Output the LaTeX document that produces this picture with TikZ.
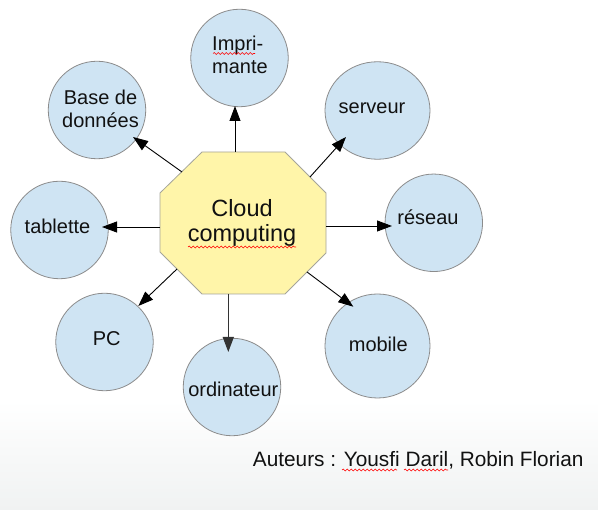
\documentclass[tikz,border=0pt]{standalone}
\usepackage{fontspec}
\setmainfont{Liberation Sans}
\usetikzlibrary{arrows.meta,shapes.geometric,decorations.pathmorphing}
\definecolor{bubfill}{HTML}{CFE4F3}
\definecolor{bubdraw}{HTML}{8C8C8C}
\definecolor{octfill}{HTML}{FFF5A9}
\definecolor{octdraw}{HTML}{A5A59A}
\definecolor{txt}{HTML}{111111}
\definecolor{bgb}{HTML}{F0F2F2}
\begin{document}
\begin{tikzpicture}[x=1pt,y=-1pt,
  bub/.style={circle, draw=bubdraw, fill=bubfill, line width=0.8pt, inner sep=0pt, minimum size=97.5pt},
  bubel/.style={ellipse, draw=bubdraw, fill=bubfill, line width=0.8pt, inner sep=0pt, minimum width=105pt, minimum height=97.5pt},
  lbl/.style={font=\fontsize{20}{22.5}\selectfont, text=txt, inner sep=0pt},
  arr/.style={-{Triangle[length=15pt,width=11pt]}, line width=0.9pt, black},
  squig/.style={red, line width=0.6pt, decorate, decoration={snake, amplitude=0.9pt, segment length=4pt}}
]
\useasboundingbox (0,0) rectangle (598,510);
\fill[white] (0,0) rectangle (598,510);
\shade[top color=white, bottom color=bgb] (0,400) rectangle (598,510);

% central octagon
\draw[octdraw, fill=octfill, line width=0.8pt]
  (202,152) -- (285,152) -- (326,193) -- (326,253) -- (285,294)
  -- (202,294) -- (160,252) -- (160,193) -- cycle;
\node[lbl, font=\fontsize{23.5}{25.7}\selectfont, align=center] (cc) at (242,223) {Cloud\\computing};

% bubbles
\node[bub] (imp) at (239.5,58) {};
\node[bub] (base) at (97,110) {};
\node[bubel] (serv) at (377.5,110.5) {};
\node[bub] (tab) at (59.5,230) {};
\node[bub] (res) at (433.8,222.8) {};
\node[bub] (pc) at (104.5,342) {};
\node[bub] (ord) at (232,387) {};
\node[bubel, minimum height=104pt] (mob) at (377.5,346) {};

% labels
\node[lbl, align=left] (imp-t) at (240,55) {Impri-\\mante};
\node[lbl, align=center] (base-t) at (100.5,109) {Base de\\données};
\node[lbl, anchor=base] (serv-t) at (372,114) {serveur};
\node[lbl, anchor=base] (tab-t) at (57.5,234) {tablette};
\node[lbl, anchor=base] (res-t) at (428,225) {réseau};
\node[lbl, anchor=base] (pc-t) at (106.7,345.7) {PC};
\node[lbl, anchor=base] (ord-t) at (233.3,396.7) {ordinateur};
\node[lbl, anchor=base] (mob-t) at (378.3,351.7) {mobile};
\node[lbl, font=\fontsize{20.8}{23}\selectfont, anchor=base west] (auth) at (252.7,466.7) {Auteurs : Yousfi Daril, Robin Florian};

% connector end points
\coordinate (s-imp) at (235,152);  \coordinate (e-imp) at (235,106);
\coordinate (s-base) at (182,172); \coordinate (e-base) at (133,137);
\coordinate (s-serv) at (310,177); \coordinate (e-serv) at (346,137);
\coordinate (s-tab) at (160,227);  \coordinate (e-tab) at (102,227);
\coordinate (s-res) at (326,226);  \coordinate (e-res) at (392,226);
\coordinate (s-pc) at (177,269);   \coordinate (e-pc) at (138.3,306);
\coordinate (s-ord) at (228.3,294); \coordinate (e-ord) at (228.3,352);
\coordinate (s-mob) at (307,272);  \coordinate (e-mob) at (353.3,306.7);

\draw[arr] (s-imp) -- (e-imp);
\draw[arr] (s-base) -- (e-base);
\draw[arr] (s-serv) -- (e-serv);
\draw[arr] (s-tab) -- (e-tab);
\draw[arr] (s-res) -- (e-res);
\draw[arr] (s-pc) -- (e-pc);
\draw[arr, line width=1.3pt, black!80] (s-ord) -- (e-ord);
\draw[arr] (s-mob) -- (e-mob);

% spell-check squiggles
\draw[squig] (213,53.5) -- (255,53.5);
\draw[squig] (188,247) -- (296,247);
\draw[squig] (342,470) -- (397,470);
\draw[squig] (404,470) -- (448,470);
\end{tikzpicture}
\end{document}
